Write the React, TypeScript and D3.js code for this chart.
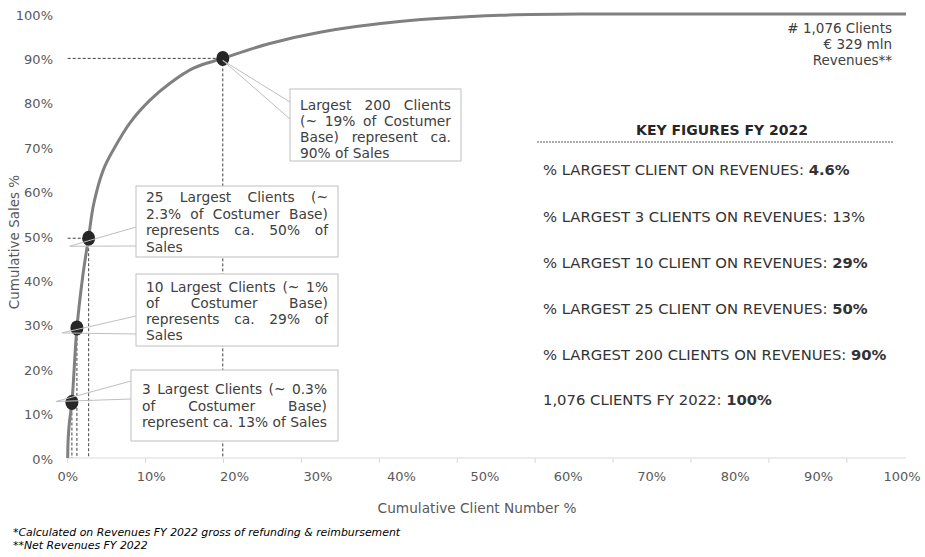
import * as React from "react";
import * as d3 from "d3";

// cumulative client share (%) vs cumulative sales share (%)
const clientPct = [0, 0.05, 0.2, 0.5, 1.1, 1.8, 2.5, 3.1, 4.25, 5.44, 7.43, 9.82, 12.2, 15, 18.5, 24, 30.1, 39.6, 51.6, 63.5, 75, 100];
const salesPct = [0, 4, 8, 12.5, 29.3, 41, 49.8, 57.2, 64.9, 69.4, 75.5, 80.6, 84.4, 87.8, 90, 93.3, 95.9, 98.3, 99.7, 100, 100, 100];

const totalClients = 1076;
const xTickLabels = [0, 10, 20, 30, 40, 50, 60, 70, 80, 90, 100];
const yTickLabels = [0, 10, 20, 30, 40, 50, 60, 70, 80, 90, 100];

// highlighted points: [client %, sales %]
const markerX = [0.5, 1.1, 2.5, 18.5];
const markerY = [12.5, 29.3, 49.5, 90];
const markerHasHLine = [false, false, true, true];

const calloutText = [
  ["3 Largest Clients (~ 0.3%", "of Costumer Base)", "represent ca. 13% of Sales"],
  ["10 Largest Clients (~ 1%", "of Costumer Base)", "represents ca. 29% of", "Sales"],
  ["25 Largest Clients (~", "2.3% of Costumer Base)", "represents ca. 50% of", "Sales"],
  ["Largest 200 Clients", "(~ 19% of Costumer", "Base) represent ca.", "90% of Sales"],
];

const keyLabels = [
  "% LARGEST CLIENT ON REVENUES: ",
  "% LARGEST 3 CLIENTS ON REVENUES: 13%",
  "% LARGEST 10 CLIENT ON REVENUES: ",
  "% LARGEST 25 CLIENT ON REVENUES: ",
  "% LARGEST 200 CLIENTS ON REVENUES: ",
  "1,076 CLIENTS FY 2022: ",
];
const keyValues = ["4.6%", "", "29%", "50%", "90%", "100%"];

const headerLines = ["# 1,076 Clients", "€ 329 mln", "Revenues**"];
const footnotes = [
  "*Calculated on Revenues FY 2022 gross of refunding & reimbursement",
  "**Net Revenues FY 2022",
];

const FONT = "DejaVu Sans, Verdana, sans-serif";
const CALLOUT_SIZE = 13.8;

// box layout for each callout (same order as calloutText)
const boxes = [
  { x: 131, y: 370, w: 207, h: 71, pad: 11, first: 389, lh: 16.5, tipDx: -16, tipDy: -1, a: 381, b: 399 },
  { x: 136, y: 274, w: 202, h: 72, pad: 10, first: 287, lh: 16, tipDx: -15, tipDy: 5, a: 316, b: 334 },
  { x: 136, y: 186, w: 202, h: 71, pad: 10, first: 197, lh: 16.5, tipDx: -19, tipDy: 8, a: 227, b: 246 },
  { x: 290, y: 89, w: 171, h: 72, pad: 10, first: 105, lh: 16, tipDx: 0, tipDy: 2, a: 102, b: 119 },
];

let measureCtx: CanvasRenderingContext2D | null = null;
function textWidth(s: string, size: number) {
  if (!measureCtx) measureCtx = document.createElement("canvas").getContext("2d");
  measureCtx!.font = `${size}px "DejaVu Sans"`;
  return measureCtx!.measureText(s).width;
}

function JustifiedLines(props: { lines: string[]; x: number; width: number; first: number; lh: number }) {
  const size = CALLOUT_SIZE;
  return (
    <g>
      {props.lines.map((line, i) => {
        const y = props.first + i * props.lh;
        const words = line.split(" ");
        const last = i === props.lines.length - 1;
        if (last || words.length < 2) {
          return (
            <text key={i} x={props.x} y={y} dominantBaseline="central" fontSize={size}>
              {line}
            </text>
          );
        }
        const widths = words.map((w) => textWidth(w, size));
        const gap = (props.width - d3.sum(widths)) / (words.length - 1);
        let cx = props.x;
        return (
          <g key={i}>
            {words.map((w, j) => {
              const el = (
                <text key={j} x={cx} y={y} dominantBaseline="central" fontSize={size}>
                  {w}
                </text>
              );
              cx += widths[j] + gap;
              return el;
            })}
          </g>
        );
      })}
    </g>
  );
}

export default function App() {
  const width = 925;
  const height = 557;
  const x = d3.scaleLinear().domain([0, 100]).range([67.7, 906]);
  const y = d3.scaleLinear().domain([0, 100]).range([458, 14]);
  // category labels under the axis are spread a little narrower than the plot
  const xLabel = d3.scaleLinear().domain([0, 100]).range([67.7, 902]);

  const pts = clientPct.map((c, i) => [c, salesPct[i]] as [number, number]);
  const line = d3
    .line<[number, number]>()
    .x((d) => x(d[0]))
    .y((d) => y(d[1]))
    .curve(d3.curveCatmullRom.alpha(0.5));

  const clientTicks = d3.range(0, totalClients + 1, 100).map((c) => (c / totalClients) * 100);

  return (
    <svg width={width} height={height} style={{ position: "absolute", left: 0, top: 0 }} fontFamily={FONT}>
      <rect width={width} height={height} fill="#fff" />

      {/* x axis */}
      <line x1={x(0)} x2={x(100)} y1={y(0)} y2={y(0)} stroke="#d9d9d9" />
      {clientTicks.map((t, i) => (
        <line key={i} x1={x(t)} x2={x(t)} y1={y(0)} y2={y(0) + 5} stroke="#d9d9d9" />
      ))}
      {xTickLabels.map((t) => (
        <text key={t} x={xLabel(t)} y={476} textAnchor="middle" dominantBaseline="central" fontSize={13} fill="#595959">
          {t}%
        </text>
      ))}
      {yTickLabels.map((t) => (
        <text key={t} x={53} y={y(t) + 1} textAnchor="end" dominantBaseline="central" fontSize={13} fill="#595959">
          {t}%
        </text>
      ))}
      <text x={477} y={508} textAnchor="middle" dominantBaseline="central" fontSize={13.7} fill="#595959">
        Cumulative Client Number %
      </text>
      <text
        transform={`translate(14,${y(50) + 6}) rotate(-90)`}
        textAnchor="middle"
        dominantBaseline="central"
        fontSize={13.5}
        fill="#595959"
      >
        Cumulative Sales %
      </text>

      {/* reference dashed lines */}
      {markerX.map((mx, i) => (
        <g key={i} stroke="#404040" strokeDasharray="3,2" strokeWidth={1}>
          <line x1={x(mx)} x2={x(mx)} y1={y(markerY[i])} y2={y(0)} />
          {markerHasHLine[i] && <line x1={x(0)} x2={x(mx)} y1={y(markerY[i])} y2={y(markerY[i])} />}
        </g>
      ))}

      {/* curve */}
      <path d={line(pts) || ""} fill="none" stroke="#808080" strokeWidth={3} />

      {markerX.map((mx, i) => (
        <ellipse key={i} cx={x(mx)} cy={y(markerY[i])} rx={6.5} ry={7.5} fill="#262626" />
      ))}

      {/* callouts */}
      {calloutText.map((lines, i) => {
        const b = boxes[i];
        const tx = x(markerX[i]) + b.tipDx;
        const ty = y(markerY[i]) + b.tipDy;
        return (
          <g key={i}>
            <line x1={tx} y1={ty} x2={b.x} y2={b.a} stroke="#bfbfbf" />
            <line x1={tx} y1={ty} x2={b.x} y2={b.b} stroke="#bfbfbf" />
            <rect x={b.x} y={b.y} width={b.w} height={b.h} fill="#fff" stroke="#bfbfbf" />
            <g fill="#404040">
              <JustifiedLines lines={lines} x={b.x + b.pad} width={b.w - 2 * b.pad} first={b.first} lh={b.lh} />
            </g>
          </g>
        );
      })}

      {/* header top right */}
      {headerLines.map((s, i) => (
        <text key={i} x={892} y={28 + i * 16} textAnchor="end" dominantBaseline="central" fontSize={13.5} fill="#404040">
          {s}
        </text>
      ))}

      {/* key figures */}
      <text x={722} y={130} textAnchor="middle" dominantBaseline="central" fontSize={14} fontWeight="bold" fill="#262626">
        KEY FIGURES FY 2022
      </text>
      <line x1={537} x2={893} y1={142} y2={142} stroke="#595959" strokeDasharray="2,1" />
      {keyLabels.map((s, i) => (
        <text key={i} x={543} y={[169, 216, 262, 308, 354, 399][i]} dominantBaseline="central" fontSize={14.8} fill="#333">
          {s}
          {keyValues[i] && <tspan fontWeight="bold">{keyValues[i]}</tspan>}
        </text>
      ))}

      {/* footnotes */}
      {footnotes.map((s, i) => (
        <text key={i} x={13} y={532 + i * 13} dominantBaseline="central" fontSize={10.9} fontStyle="italic" fill="#000">
          {s}
        </text>
      ))}
    </svg>
  );
}
